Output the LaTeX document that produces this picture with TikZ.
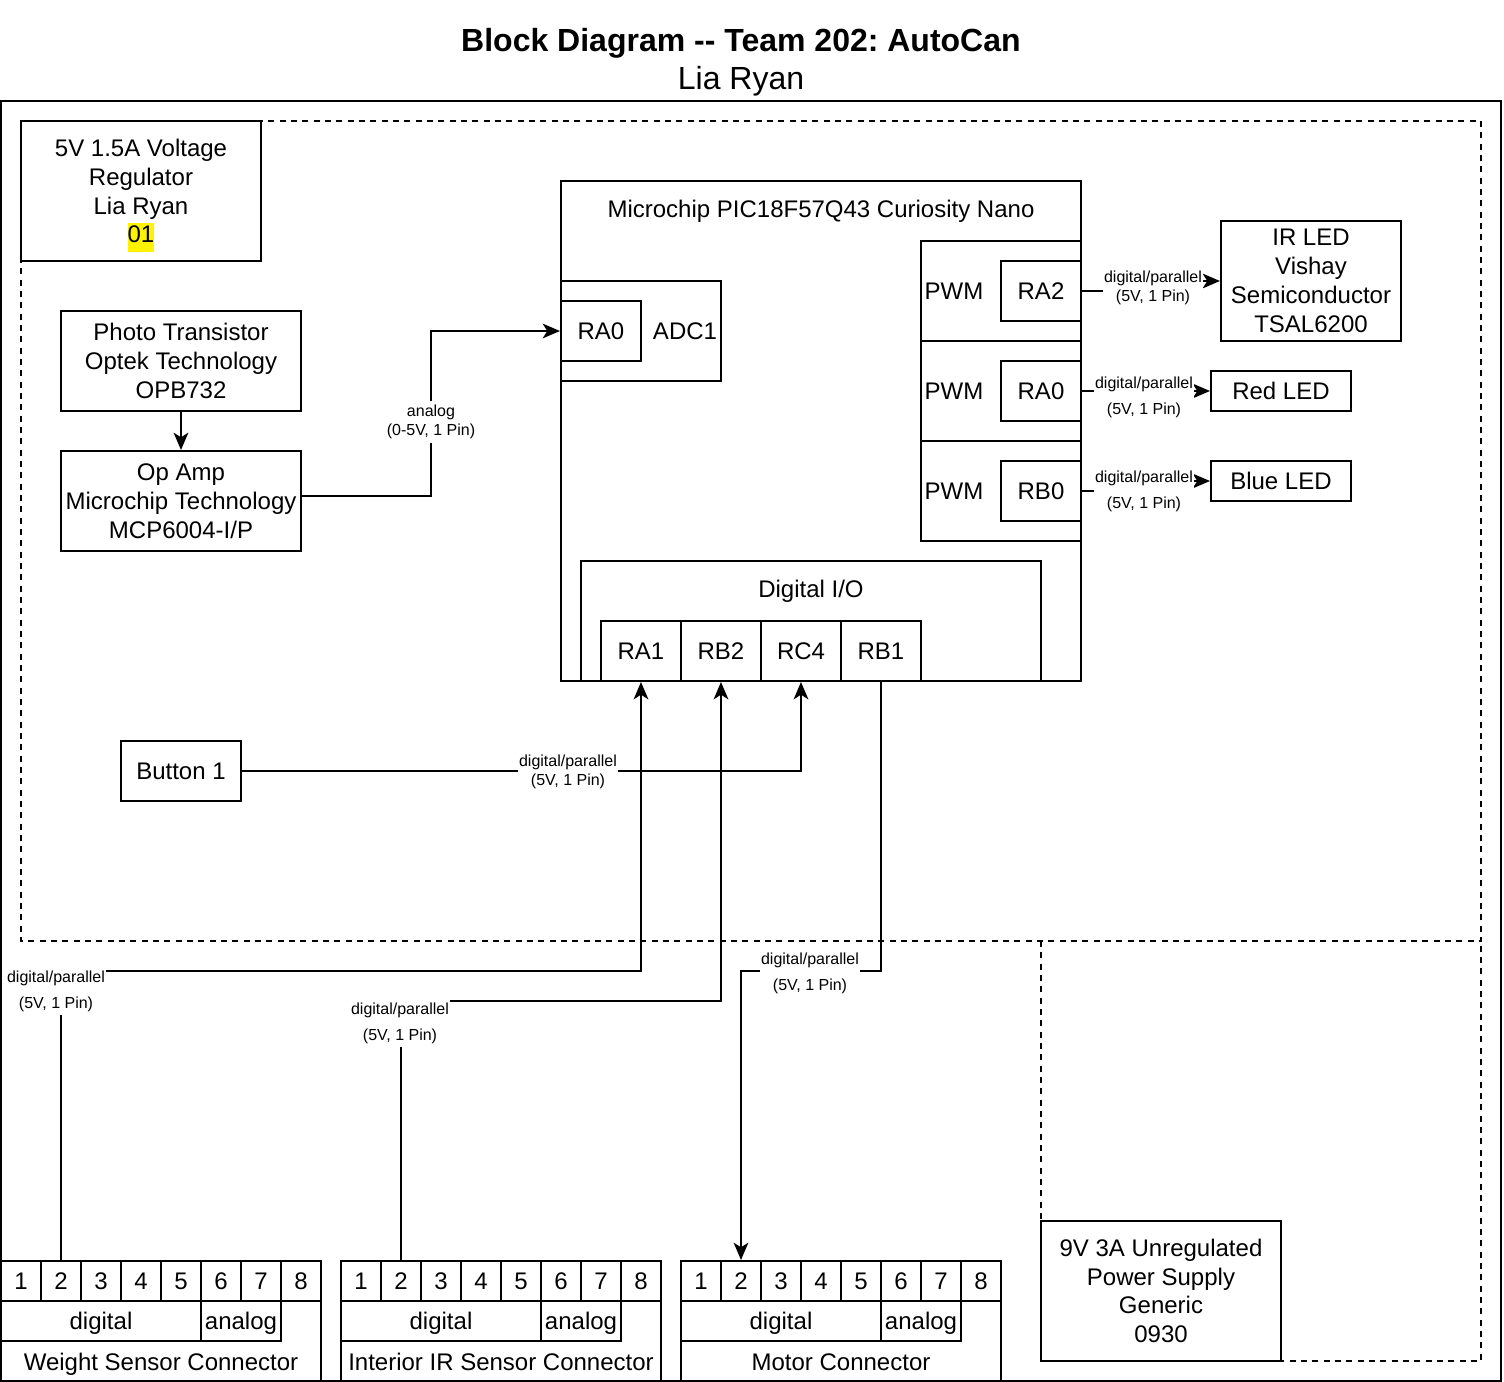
\documentclass[tikz,border=0pt]{standalone}
\usepackage{fontspec}
\setmainfont{Liberation Sans}
\usetikzlibrary{arrows.meta}
\frenchspacing

\tikzset{
    blk/.style={draw, line width=1.5pt, fill=white, inner sep=0pt, align=center, font=\fontsize{18}{21.6}\selectfont},
    sz/.style 2 args={minimum width=#1*0.75pt, minimum height=#2*0.75pt},
    one/.style={text height=13pt, text depth=0pt},
    txt/.style={inner sep=0pt, align=center, one, font=\fontsize{18}{21.6}\selectfont},
    lbl/.style={fill=white, inner xsep=1pt, inner ysep=3pt, align=center, font=\fontsize{12}{14.4}\selectfont},
    arr/.style={line width=1.5pt, -{Stealth[length=13pt,width=11pt,inset=3.5pt]}},
    zone/.style={line width=1.5pt, dash pattern=on 4.5pt off 4pt}
}

\begin{document}
\begin{tikzpicture}[x=0.75pt, y=-0.75pt]
        \useasboundingbox (0,0) rectangle (1504,1382);
        \node[font=\bfseries\fontsize{24}{28.8}\selectfont, one] (title) at (741,43) {Block Diagram {-}{-} Team 202: AutoCan};
        \node[font=\fontsize{24}{28.8}\selectfont, one] (author) at (741,81) {Lia Ryan};
        \draw[line width=1.5pt] (1,101) rectangle (1501,1381);
        \draw[zone] (21,121) rectangle (1481,941);
        \draw[zone] (1041,941) -- (1041,1361) -- (1481,1361) -- (1481,941);
        % power
        \node[blk, sz={240}{140}] (reg) at (141,191) {5V 1.5A Voltage\\Regulator\\Lia Ryan\\\smash{\setlength{\fboxsep}{0pt}\colorbox{yellow}{\strut 01}}};
        \node[blk, sz={240}{140}] (supply) at (1161,1291) {9V 3A Unregulated\\Power Supply\\Generic\\0930};
        % sensor chain
        \node[blk, sz={240}{100}] (pt) at (181,361) {Photo Transistor\\Optek Technology\\OPB732};
        \node[blk, sz={240}{100}] (opamp) at (181,501) {Op Amp\\Microchip Technology\\MCP6004-I/P};
        \node[blk, one, sz={120}{60}] (button) at (181,771) {Button 1};
        % microcontroller
        \node[blk, sz={520}{500}] (mcu) at (821,431) {};
        \node[txt] (mcuname) at (821,209) {Microchip PIC18F57Q43 Curiosity Nano};
        \node[blk, sz={160}{100}] (adc) at (641,331) {};
        \node[txt] (adcname) at (685,331) {ADC1};
        \node[blk, one, sz={80}{60}] (ra0in) at (601,331) {RA0};
        \foreach \y/\n/\p in {291/ra2/RA2, 391/ra0out/RA0, 491/rb0/RB0} {
            \node[blk, sz={160}{100}] (pwm\n) at (1001,\y) {};
            \node[txt] at (954,\y) {PWM};
            \node[blk, one, sz={80}{60}] (\n) at (1041,\y) {\p};
        }
        \node[blk, sz={460}{120}] (dio) at (811,621) {};
        \node[txt] (dioname) at (811,589) {Digital I/O};
        \node[blk, one, sz={80}{60}] (ra1) at (641,651) {RA1};
        \node[blk, one, sz={80}{60}] (rb2) at (721,651) {RB2};
        \node[blk, one, sz={80}{60}] (rc4) at (801,651) {RC4};
        \node[blk, one, sz={80}{60}] (rb1) at (881,651) {RB1};
        % outputs
        \node[blk, sz={180}{120}] (irled) at (1311,281) {IR LED\\Vishay\\Semiconductor\\TSAL6200};
        \node[blk, one, sz={140}{40}] (redled) at (1281,391) {Red LED};
        \node[blk, one, sz={140}{40}] (blueled) at (1281,481) {Blue LED};
        % connectors
        \foreach \x/\n/\name in {1/w/Weight Sensor Connector, 341/i/Interior IR Sensor Connector, 681/m/Motor Connector} {
            \node[blk, sz={320}{120}] (\n box) at (\x+160,1321) {};
            \foreach \k in {1,...,8}
                \node[blk, one, sz={40}{40}] (\n\k) at (\x+40*\k-20,1281) {\k};
            \node[blk, one, sz={200}{40}] (\n dig) at (\x+100,1321) {digital};
            \node[blk, one, sz={80}{40}] (\n ana) at (\x+240,1321) {analog};
            \node[txt] (\n name) at (\x+160,1362) {\name};
        }
        % wires
        \coordinate (ak) at (431,496);
        \coordinate (irk) at (1151,291);
        \coordinate (bk) at (1144,491);
        \coordinate (wk) at (61,971);
        \coordinate (ik) at (401,1001);
        \coordinate (mk) at (881,971);
        \draw[arr] (pt) -- (opamp);
        \draw[arr] (opamp.east |- ak) -- (ak) |- (ra0in.west);
        \draw[arr] (ra2.east) -- (irk) |- (irled.west);
        \draw[arr] (ra0out.east) -- (redled.west);
        \draw[arr] (rb0.east) -- (bk) |- (blueled.west);
        \draw[arr] (button.east) -| (rc4.south);
        \draw[arr] (w2.north) -- (wk) -| (ra1.south);
        \draw[arr] (i2.north) -- (ik) -| (rb2.south);
        \draw[arr] (rb1.south) -- (mk) -| (m2.north);
        % labels
        \node[lbl] (lanalog) at (431,422) {analog\\(0-5V, 1 Pin)};
        \node[lbl] (lir) at (1153,288) {digital/parallel\\(5V, 1 Pin)};
        \node[lbl] (lred) at (1144,397) {digital/parallel\\[5pt](5V, 1 Pin)};
        \node[lbl] (lblue) at (1144,491) {digital/parallel\\[5pt](5V, 1 Pin)};
        \node[lbl] (lbutton) at (568,772) {digital/parallel\\(5V, 1 Pin)};
        \node[lbl] (lweight) at (56,991) {digital/parallel\\[5pt](5V, 1 Pin)};
        \node[lbl] (linterior) at (400,1023) {digital/parallel\\[5pt](5V, 1 Pin)};
        \node[lbl] (lmotor) at (810,973) {digital/parallel\\[5pt](5V, 1 Pin)};
    \end{tikzpicture}
\end{document}
